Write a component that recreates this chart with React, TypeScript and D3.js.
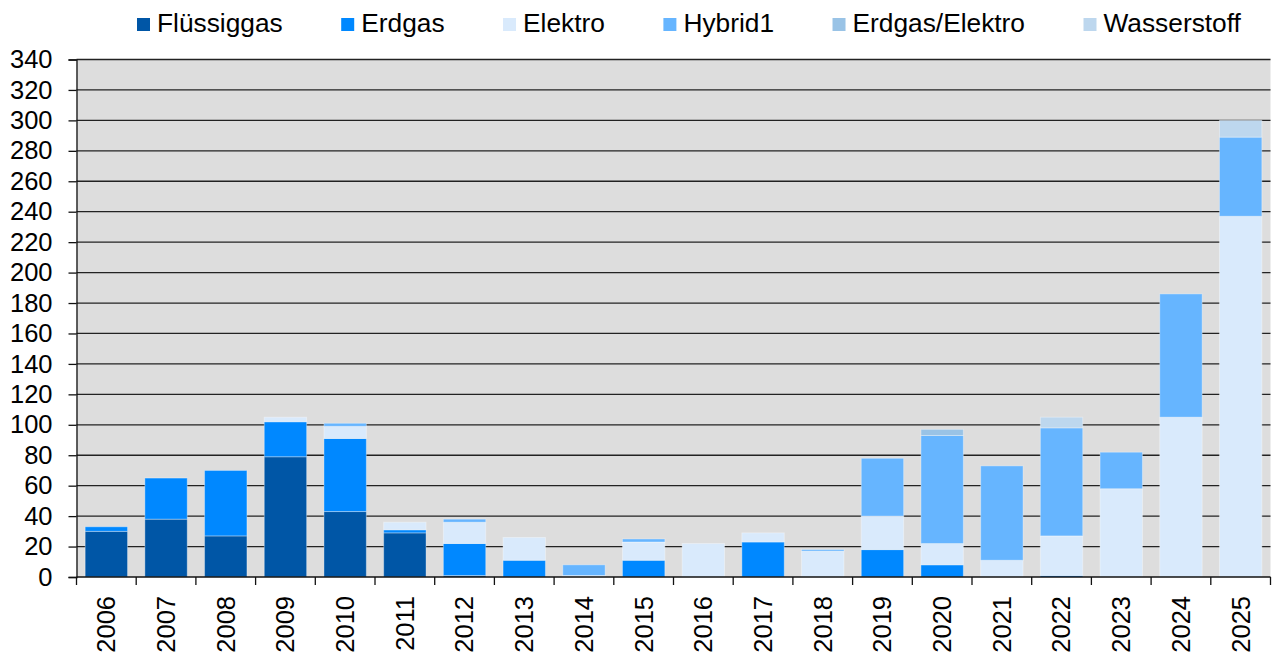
import { useEffect, useRef } from "react"
import * as d3 from "d3"

const years = [
  "2006", "2007", "2008", "2009", "2010", "2011", "2012", "2013", "2014", "2015",
  "2016", "2017", "2018", "2019", "2020", "2021", "2022", "2023", "2024", "2025",
]
const seriesNames = ["Flüssiggas", "Erdgas", "Elektro", "Hybrid1", "Erdgas/Elektro", "Wasserstoff"]
const fluessiggas = [30, 38, 27, 79, 43, 29, 1, 0, 0, 0, 0, 0, 0, 0, 0, 0, 0, 0, 0, 0]
const erdgas = [3, 27, 43, 23, 48, 2, 21, 11, 0, 11, 0, 23, 0, 18, 8, 0, 1, 0, 0, 0]
const elektro = [0, 0, 0, 3, 8, 5, 14, 15, 1, 12, 22, 6, 17, 22, 14, 11, 26, 58, 105, 237]
const hybrid1 = [0, 0, 0, 0, 2, 0, 2, 0, 7, 2, 0, 0, 1, 38, 71, 62, 71, 24, 81, 52]
const erdgasElektro = [0, 0, 0, 0, 0, 0, 0, 0, 0, 0, 0, 0, 0, 0, 4, 0, 0, 0, 0, 0]
const wasserstoff = [0, 0, 0, 0, 0, 0, 0, 0, 0, 0, 0, 0, 0, 0, 0, 0, 7, 0, 0, 11]
const yTicks = [0, 20, 40, 60, 80, 100, 120, 140, 160, 180, 200, 220, 240, 260, 280, 300, 320, 340]

const colors = ["#0056A6", "#0088FF", "#D9EAFC", "#66B5FF", "#99C3E6", "#BDD7EE"]
const font = "'Liberation Sans', Arial, sans-serif"

export default function App() {
  const svgRef = useRef<SVGSVGElement>(null)
  const width = 1277
  const height = 653

  useEffect(() => {
    document.body.style.margin = "0"
    if (!svgRef.current) return
    const svg = d3.select(svgRef.current)
    svg.selectAll("*").remove()

    const left = 76.5
    const right = 1270.5
    const top = 59.5
    const bottom = 577

    const rows = years.map((y, i) => ({
      year: y,
      "Flüssiggas": fluessiggas[i],
      "Erdgas": erdgas[i],
      "Elektro": elektro[i],
      "Hybrid1": hybrid1[i],
      "Erdgas/Elektro": erdgasElektro[i],
      "Wasserstoff": wasserstoff[i],
    }))

    const x = d3.scaleBand().domain(years).range([left, right]).paddingInner(0.29).paddingOuter(0.145)
    const y = d3.scaleLinear().domain([0, 340]).range([bottom, top])
    const color = d3.scaleOrdinal<string>().domain(seriesNames).range(colors)

    // plot background
    svg.append("rect")
      .attr("x", left)
      .attr("y", top)
      .attr("width", right - left)
      .attr("height", bottom - top)
      .attr("fill", "#DDDDDD")

    // gridlines
    svg.append("g")
      .selectAll("line")
      .data(yTicks.filter((t) => t > 0))
      .enter()
      .append("line")
      .attr("x1", left)
      .attr("x2", right)
      .attr("y1", (d) => y(d))
      .attr("y2", (d) => y(d))
      .attr("stroke", "#222")
      .attr("stroke-width", 1.3)

    // stacked bars
    const stack = d3.stack<any>().keys(seriesNames)(rows)
    svg.append("g")
      .selectAll("g")
      .data(stack)
      .enter()
      .append("g")
      .attr("fill", (d) => color(d.key))
      .selectAll("rect")
      .data((d) => d.filter((p) => p[1] - p[0] > 0))
      .enter()
      .append("rect")
      .attr("x", (d: any) => x(d.data.year)!)
      .attr("width", x.bandwidth())
      .attr("y", (d) => y(d[1]))
      .attr("height", (d) => y(d[0]) - y(d[1]))
      .attr("stroke", "rgba(255,255,255,0.35)")
      .attr("stroke-width", 1)

    // y axis
    const yAxis = svg.append("g").attr("transform", `translate(${left},0)`)
    yAxis.call(
      d3.axisLeft(y).tickValues(yTicks).tickSize(8).tickPadding(16).tickFormat((d) => String(d))
    )
    yAxis.select(".domain").attr("stroke", "#111").attr("stroke-width", 1.3)
    yAxis.selectAll(".tick line").attr("stroke", "#111").attr("stroke-width", 1.3)
    yAxis.selectAll(".tick text")
      .style("font-family", font)
      .style("font-size", "25.5px")
      .attr("fill", "#000")

    // x axis line and ticks between categories
    svg.append("line")
      .attr("x1", left)
      .attr("x2", right)
      .attr("y1", bottom)
      .attr("y2", bottom)
      .attr("stroke", "#111")
      .attr("stroke-width", 1.3)

    const step = x.step()
    svg.append("g")
      .selectAll("line")
      .data(d3.range(years.length + 1))
      .enter()
      .append("line")
      .attr("x1", (i) => left + i * step)
      .attr("x2", (i) => left + i * step)
      .attr("y1", bottom)
      .attr("y2", bottom + 8)
      .attr("stroke", "#111")
      .attr("stroke-width", 1.3)

    svg.append("g")
      .selectAll("text")
      .data(years)
      .enter()
      .append("text")
      .attr("transform", (d) => `translate(${x(d)! + x.bandwidth() / 2},596) rotate(-90)`)
      .attr("text-anchor", "end")
      .attr("dy", "0.35em")
      .style("font-family", font)
      .style("font-size", "25.5px")
      .attr("fill", "#000")
      .text((d) => d)

    // legend
    const legend = svg.append("g")
    let lx = 137
    seriesNames.forEach((name) => {
      legend.append("rect")
        .attr("x", lx)
        .attr("y", 18)
        .attr("width", 13)
        .attr("height", 13)
        .attr("fill", color(name))
      const t = legend.append("text")
        .attr("x", lx + 20)
        .attr("y", 32)
        .style("font-family", font)
        .style("font-size", "26.3px")
        .attr("fill", "#000")
        .text(name)
      const w = (t.node() as SVGTextElement).getComputedTextLength()
      lx += 20 + w + 58.5
    })
  }, [])

  return <svg ref={svgRef} width={width} height={height} style={{ display: "block" }} />
}
